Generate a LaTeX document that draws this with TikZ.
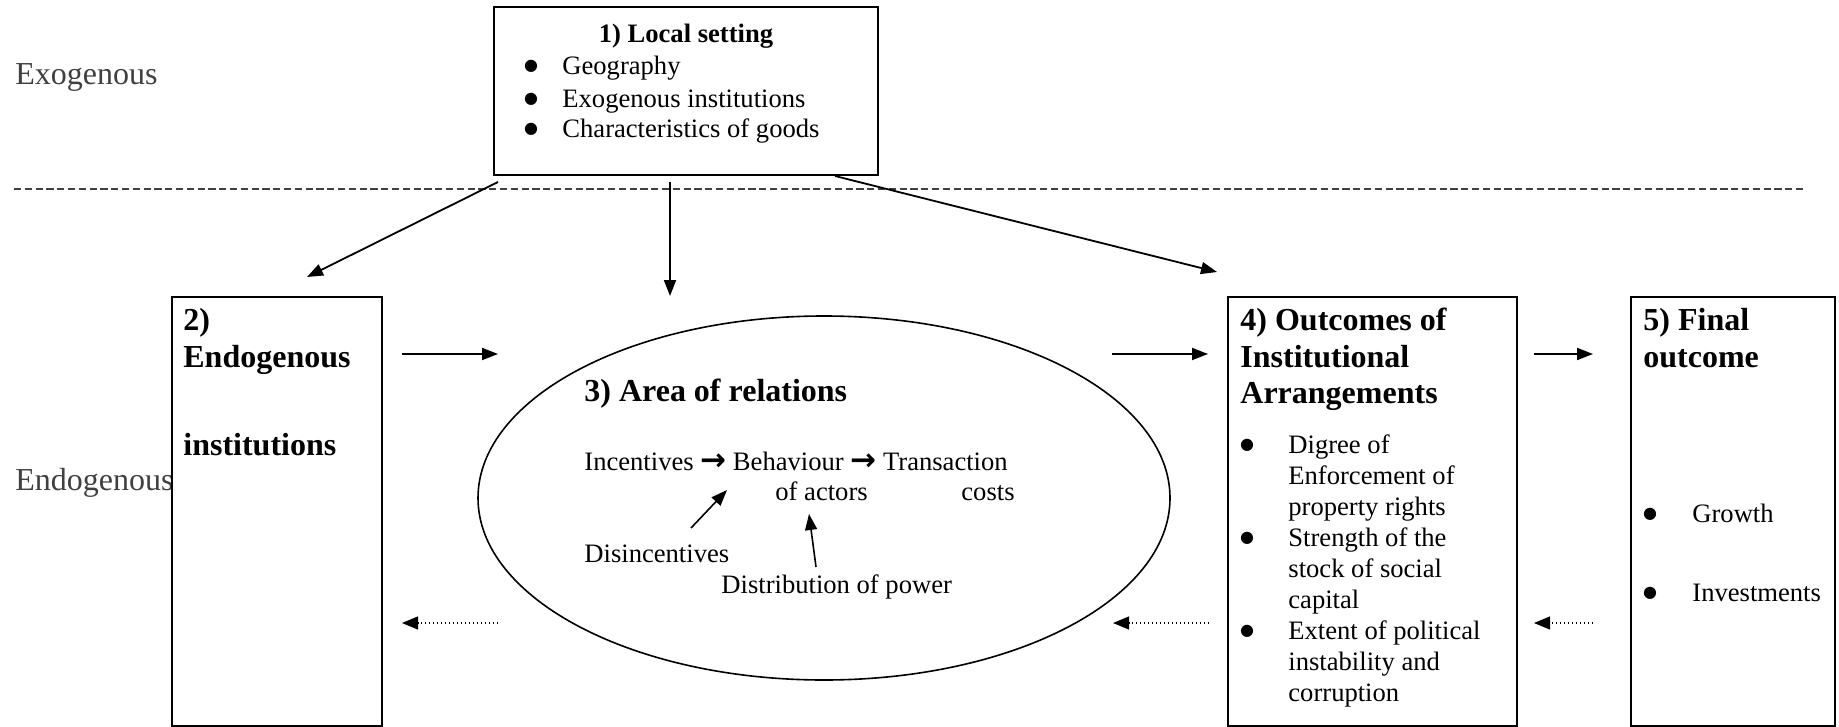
\documentclass[tikz,border=0pt]{standalone}
\usepackage{fontspec}
\setmainfont{Liberation Serif}
\newfontfamily\symbfont{DejaVu Sans}
\usetikzlibrary{arrows.meta,shapes.geometric}
\newcommand{\ra}{{\symbfont\bfseries\fontsize{15.5}{16}\selectfont\char"2192}}
\begin{document}
\begin{tikzpicture}[x=0.5pt,y=-0.5pt,
  box/.style={draw,line width=1pt,rectangle,inner sep=0},
  flow/.style={line width=0.9pt,-{Triangle[length=8pt,width=6pt]}},
  feedback/.style={line width=0.6pt,dash pattern=on 0.6pt off 1.4pt,-{Triangle[length=8pt,width=6.5pt]}},
  body/.style={inner sep=0,anchor=base west,font=\fontsize{13.3}{16}\selectfont},
  head/.style={inner sep=0,anchor=base west,font=\fontsize{16}{18.5}\selectfont\bfseries},
  side/.style={inner sep=0,anchor=base west,text=black!75,font=\fontsize{16}{19}\selectfont},
  dot/.style={inner sep=0,anchor=base,font=\symbfont\fontsize{8}{8}\selectfont},
]
\useasboundingbox (0,0) rectangle (1839,727);
\clip (0,0) rectangle (1839,727);

% level labels and the divider between them
\node[side] (exo) at (15,85) {Exogenous};
\node[side] (endo) at (15,490) {Endogenous};
\draw[black!75,line width=1.1pt,dash pattern=on 3.6pt off 1.8pt] (14,189) -- (1806,189);

% boxes
\node[box,minimum width=192pt,minimum height=84pt] (b1) at (686,91) {};
\node[box,minimum width=105pt,minimum height=214.5pt] (b2) at (277,511.5) {};
\node[draw,ellipse,line width=0.8pt,inner sep=0,minimum width=346pt,minimum height=182pt] (b3) at (824,498) {};
\node[box,minimum width=144.5pt,minimum height=214.5pt] (b4) at (1372,511.5) {};
\node[box,minimum width=102pt,minimum height=214.5pt] (b5) at (1733,511.5) {};

% 1) local setting
\node[body,anchor=base,font=\fontsize{13.3}{16}\selectfont\bfseries] (h1) at (686,43) {1) Local setting};
\node[dot] (d1a) at (531,71) {\char"25CF};
\node[dot] (d1b) at (531,104) {\char"25CF};
\node[dot] (d1c) at (531,134) {\char"25CF};
\node[body] (l1a) at (562,75) {Geography};
\node[body] (l1b) at (562,108) {Exogenous institutions};
\node[body] (l1c) at (562,138) {Characteristics of goods};

% 2) endogenous institutions
\node[head] (h2a) at (183,330) {2)};
\node[head] (h2b) at (183,367) {Endogenous};
\node[head] (h2c) at (183,455) {institutions};

% 3) area of relations
\node[head] (h3) at (584,401) {3) Area of relations};
\node[body] (r1) at (584,470) {Incentives \ra{} Behaviour \ra{} Transaction};
\node[body] (r2) at (775,500) {of actors};
\node[body] (r3) at (961,500) {costs};
\node[body] (r4) at (584,562) {Disincentives};
\node[body] (r5) at (721,593) {Distribution of power};

% 4) outcomes of institutional arrangements
\node[head] (h4a) at (1240,330) {4) Outcomes of};
\node[head] (h4b) at (1240,367) {Institutional};
\node[head] (h4c) at (1240,403) {Arrangements};
\node[dot] (d4a) at (1247,449) {\char"25CF};
\node[dot] (d4b) at (1247,542) {\char"25CF};
\node[dot] (d4c) at (1247,635) {\char"25CF};
\node[body] (o1) at (1288,453) {Digree of};
\node[body] (o2) at (1288,484) {Enforcement of};
\node[body] (o3) at (1288,515) {property rights};
\node[body] (o4) at (1288,546) {Strength of the};
\node[body] (o5) at (1288,577) {stock of social};
\node[body] (o6) at (1288,608) {capital};
\node[body] (o7) at (1288,639) {Extent of political};
\node[body] (o8) at (1288,670) {instability and};
\node[body] (o9) at (1288,701) {corruption};

% 5) final outcome
\node[head] (h5a) at (1643,330) {5) Final};
\node[head] (h5b) at (1643,367) {outcome};
\node[dot] (d5a) at (1650,518) {\char"25CF};
\node[dot] (d5b) at (1650,597) {\char"25CF};
\node[body] (f1) at (1692,522) {Growth};
\node[body] (f2) at (1692,601) {Investments};

% connector end points
\coordinate (s12) at (498,182);  \coordinate (e12) at (307,277);
\coordinate (s13) at (670,182);  \coordinate (e13) at (670,296);
\coordinate (s14) at (835,176);  \coordinate (e14) at (1217,272);
\coordinate (s23) at (402,354);  \coordinate (e23) at (498,354);
\coordinate (s34) at (1112,354); \coordinate (e34) at (1208,354);
\coordinate (s45) at (1534,354); \coordinate (e45) at (1593,354);
\coordinate (s32) at (498,623);  \coordinate (e32) at (402,623);
\coordinate (s43) at (1209,623); \coordinate (e43) at (1113,623);
\coordinate (s54) at (1593,623); \coordinate (e54) at (1534,623);
\coordinate (sdis) at (691,528); \coordinate (edis) at (727,490);
\coordinate (spow) at (816,567); \coordinate (epow) at (809,514);

% forward influences
\draw[flow] (s12) -- (e12);
\draw[flow] (s13) -- (e13);
\draw[flow] (s14) -- (e14);
\draw[flow] (s23) -- (e23);
\draw[flow] (s34) -- (e34);
\draw[flow] (s45) -- (e45);
\draw[flow,line width=0.8pt] (sdis) -- (edis);
\draw[flow,line width=0.8pt] (spow) -- (epow);

% feedback
\draw[feedback] (s32) -- (e32);
\draw[feedback] (s43) -- (e43);
\draw[feedback] (s54) -- (e54);
\end{tikzpicture}
\end{document}
